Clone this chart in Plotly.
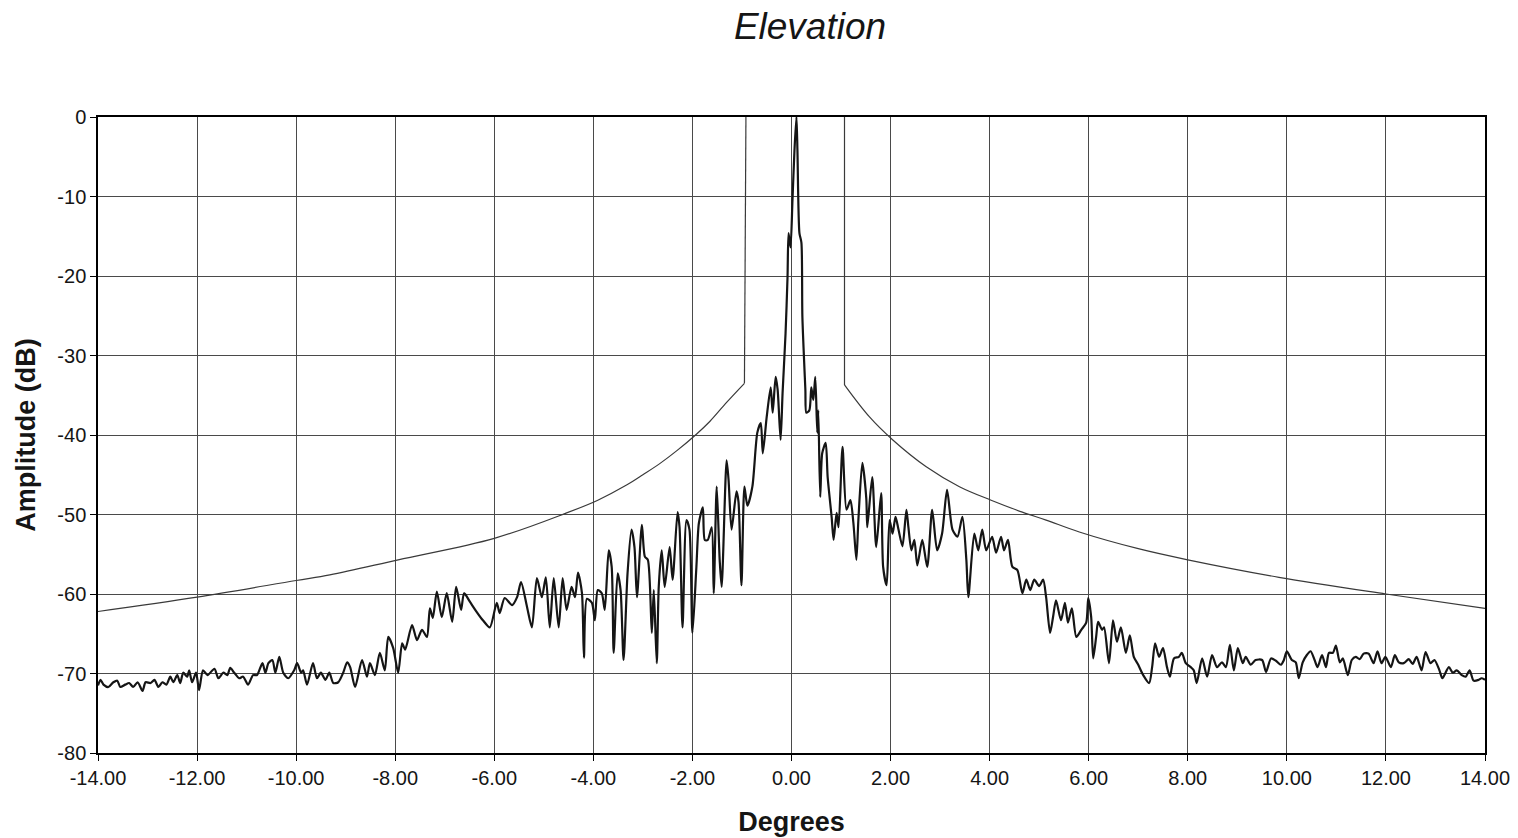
import plotly.graph_objects as go

# Measured elevation pattern: angle (degrees) and normalised amplitude (dB)
pattern_deg = [
    -14.00, -13.95, -13.89, -13.79, -13.69, -13.61, -13.55, -13.45, -13.37, -13.29,
    -13.20, -13.10, -13.04, -12.94, -12.86, -12.78, -12.70, -12.62, -12.54, -12.48,
    -12.40, -12.34, -12.28, -12.20, -12.16, -12.10, -12.02, -11.96, -11.88, -11.79,
    -11.65, -11.57, -11.47, -11.39, -11.33, -11.25, -11.15, -11.07, -10.97, -10.87,
    -10.79, -10.68, -10.62, -10.56, -10.48, -10.42, -10.34, -10.26, -10.16, -10.04,
    -9.98, -9.90, -9.86, -9.78, -9.66, -9.58, -9.50, -9.41, -9.33, -9.25,
    -9.15, -9.05, -8.97, -8.91, -8.81, -8.67, -8.57, -8.51, -8.41, -8.31,
    -8.21, -8.14, -8.04, -7.94, -7.86, -7.80, -7.66, -7.56, -7.46, -7.36,
    -7.30, -7.24, -7.16, -7.06, -6.96, -6.85, -6.77, -6.67, -6.61, -6.49,
    -6.35, -6.23, -6.09, -5.95, -5.89, -5.79, -5.64, -5.54, -5.46, -5.34,
    -5.24, -5.14, -5.04, -4.96, -4.88, -4.80, -4.70, -4.62, -4.54, -4.44,
    -4.37, -4.31, -4.23, -4.19, -4.13, -4.03, -3.97, -3.91, -3.83, -3.77,
    -3.69, -3.63, -3.59, -3.51, -3.45, -3.39, -3.31, -3.23, -3.17, -3.12,
    -3.02, -2.96, -2.90, -2.82, -2.78, -2.72, -2.68, -2.62, -2.56, -2.46,
    -2.40, -2.30, -2.26, -2.20, -2.12, -2.06, -2.00, -1.92, -1.87, -1.79,
    -1.75, -1.69, -1.61, -1.57, -1.51, -1.45, -1.41, -1.31, -1.27, -1.21,
    -1.11, -1.07, -1.01, -0.95, -0.89, -0.79, -0.69, -0.62, -0.58, -0.50,
    -0.42, -0.38, -0.32, -0.28, -0.22, -0.18, -0.12, -0.08, -0.06, -0.02,
    0.02, 0.06, 0.10, 0.12, 0.16, 0.20, 0.22, 0.28, 0.30, 0.36,
    0.40, 0.44, 0.48, 0.52, 0.54, 0.58, 0.62, 0.69, 0.73, 0.81,
    0.85, 0.91, 0.95, 1.03, 1.11, 1.19, 1.25, 1.31, 1.35, 1.43,
    1.51, 1.53, 1.63, 1.71, 1.81, 1.85, 1.92, 1.98, 2.04, 2.10,
    2.16, 2.24, 2.32, 2.36, 2.42, 2.48, 2.54, 2.64, 2.74, 2.84,
    2.94, 3.04, 3.14, 3.25, 3.35, 3.45, 3.53, 3.57, 3.69, 3.77,
    3.85, 3.93, 4.05, 4.13, 4.23, 4.29, 4.37, 4.46, 4.56, 4.66,
    4.74, 4.82, 4.90, 5.00, 5.08, 5.14, 5.22, 5.28, 5.34, 5.44,
    5.52, 5.58, 5.66, 5.75, 5.85, 5.95, 5.99, 6.05, 6.09, 6.15,
    6.19, 6.27, 6.31, 6.41, 6.49, 6.57, 6.65, 6.75, 6.83, 6.91,
    7.00, 7.10, 7.22, 7.28, 7.34, 7.42, 7.50, 7.58, 7.64, 7.72,
    7.82, 7.88, 7.96, 8.06, 8.12, 8.18, 8.29, 8.39, 8.49, 8.59,
    8.69, 8.77, 8.85, 8.93, 9.01, 9.11, 9.17, 9.27, 9.37, 9.50,
    9.58, 9.68, 9.78, 9.88, 9.94, 10.00, 10.10, 10.18, 10.24, 10.32,
    10.40, 10.48, 10.56, 10.62, 10.71, 10.79, 10.85, 10.93, 10.99, 11.07,
    11.13, 11.23, 11.31, 11.39, 11.47, 11.55, 11.65, 11.75, 11.83, 11.91,
    11.99, 12.10, 12.18, 12.26, 12.36, 12.46, 12.54, 12.62, 12.72, 12.80,
    12.90, 12.98, 13.08, 13.14, 13.27, 13.35, 13.43, 13.53, 13.61, 13.69,
    13.77, 13.87, 13.93, 14.00,
]
pattern_db = [
    -71.5, -70.8, -71.4, -71.7, -71.1, -70.9, -71.7, -71.4, -71.2, -71.7,
    -71.1, -72.2, -71.1, -71.2, -70.8, -71.7, -71.1, -71.4, -70.4, -71.1,
    -70.2, -71.2, -69.9, -70.4, -69.6, -71.1, -69.9, -72.1, -69.6, -70.2,
    -69.4, -70.6, -69.9, -70.2, -69.3, -69.9, -70.6, -70.4, -71.4, -70.2,
    -70.2, -68.7, -69.9, -68.7, -68.3, -69.9, -67.9, -69.9, -70.6, -69.6,
    -68.7, -69.9, -69.6, -71.4, -68.7, -70.6, -69.9, -70.8, -69.9, -71.2,
    -71.1, -69.9, -68.6, -69.2, -71.7, -68.3, -70.4, -68.7, -70.2, -67.4,
    -69.6, -65.4, -66.8, -69.9, -66.2, -67.0, -63.9, -65.8, -64.5, -65.4,
    -61.8, -63.0, -59.7, -62.9, -59.9, -63.5, -59.1, -62.0, -59.9, -61.0,
    -62.3, -63.3, -64.2, -61.1, -62.4, -60.5, -61.4, -60.4, -58.5, -61.6,
    -64.2, -58.0, -60.4, -57.9, -64.2, -58.0, -64.2, -58.0, -62.0, -59.1,
    -60.4, -57.3, -59.9, -68.0, -60.6, -61.1, -63.3, -59.5, -59.9, -62.0,
    -54.5, -56.6, -67.4, -57.4, -59.5, -68.3, -57.4, -51.9, -54.1, -60.4,
    -51.3, -55.3, -55.7, -64.9, -59.5, -68.7, -59.1, -54.5, -59.1, -54.1,
    -58.2, -49.7, -51.6, -64.2, -50.7, -51.9, -64.9, -56.6, -51.1, -49.1,
    -53.2, -53.2, -51.6, -59.9, -46.5, -55.7, -59.1, -43.2, -45.7, -51.9,
    -47.1, -48.4, -58.9, -46.5, -48.9, -46.5, -39.7, -38.5, -42.3, -37.7,
    -34.0, -37.2, -32.7, -34.3, -40.6, -34.7, -27.2, -20.1, -14.6, -16.4,
    -10.4, -4.2, 0.0, -4.2, -14.6, -15.8, -25.2, -34.3, -37.2, -36.9,
    -34.0, -35.6, -32.7, -39.7, -36.9, -47.8, -42.3, -41.0, -45.3, -50.3,
    -53.2, -49.8, -51.6, -41.5, -49.4, -48.2, -51.1, -55.7, -50.7, -43.5,
    -48.0, -51.6, -45.3, -54.1, -47.3, -56.6, -58.9, -50.7, -52.4, -50.3,
    -51.9, -54.0, -49.4, -51.6, -54.5, -53.2, -56.4, -53.2, -56.6, -49.4,
    -54.5, -52.4, -46.9, -51.9, -52.8, -50.3, -55.7, -60.4, -52.4, -54.5,
    -51.9, -54.5, -52.8, -54.8, -52.8, -54.5, -53.2, -56.6, -57.0, -59.9,
    -58.2, -59.5, -58.2, -59.0, -58.2, -60.4, -64.9, -62.9, -60.8, -63.3,
    -61.1, -63.6, -61.8, -65.4, -64.5, -63.6, -60.5, -62.9, -68.1, -65.4,
    -63.5, -64.5, -64.2, -68.7, -63.3, -66.0, -64.2, -67.4, -65.2, -67.9,
    -68.9, -70.2, -71.2, -69.2, -66.2, -67.9, -66.8, -69.2, -70.4, -68.1,
    -67.9, -67.4, -68.7, -69.2, -69.6, -71.2, -68.1, -70.4, -67.7, -69.2,
    -68.6, -69.2, -66.4, -69.6, -66.8, -68.7, -67.9, -68.9, -68.3, -68.3,
    -69.8, -68.1, -68.4, -68.9, -68.3, -67.2, -68.3, -68.6, -70.6, -68.6,
    -67.7, -67.2, -68.3, -69.2, -67.7, -69.2, -67.4, -67.4, -66.5, -68.6,
    -68.1, -70.2, -68.3, -67.9, -68.2, -67.5, -67.5, -68.7, -67.2, -68.7,
    -67.9, -69.2, -67.7, -68.6, -68.7, -68.2, -68.8, -67.9, -69.6, -67.3,
    -68.7, -68.3, -69.6, -70.6, -69.2, -69.9, -69.6, -70.2, -70.4, -69.6,
    -70.9, -70.8, -70.6, -70.8,
]

# Sidelobe envelope (mask) on each side of the main beam;
# the first point of each list is the top of the vertical edge at the beam.
mask_left_deg = [-0.92, -0.95, -1.31, -1.65, -1.92, -2.32, -2.66, -3.00, -3.33,
                 -3.91, -4.54, -6.00, -7.94, -9.32, -10.00, -12.00, -14.00]
mask_left_db = [0.0, -33.5, -35.9, -38.3, -39.9, -42.0, -43.6, -45.0, -46.3,
                -48.2, -49.8, -53.0, -55.7, -57.6, -58.3, -60.4, -62.2]
mask_right_deg = [1.07, 1.07, 1.57, 2.04, 2.72, 3.39, 4.03, 4.66, 5.14,
                  5.81, 7.00, 8.00, 9.84, 12.00, 14.00]
mask_right_db = [0.0, -33.7, -37.7, -40.6, -44.0, -46.5, -48.2, -49.7, -50.7,
                 -52.2, -54.3, -55.7, -57.9, -60.0, -61.8]

x_ticks = [-14, -12, -10, -8, -6, -4, -2, 0, 2, 4, 6, 8, 10, 12, 14]
x_tick_labels = ["-14.00", "-12.00", "-10.00", "-8.00", "-6.00", "-4.00", "-2.00",
                 "0.00", "2.00", "4.00", "6.00", "8.00", "10.00", "12.00", "14.00"]
y_ticks = [-80, -70, -60, -50, -40, -30, -20, -10, 0]
y_tick_labels = ["-80", "-70", "-60", "-50", "-40", "-30", "-20", "-10", "0"]

FONT = "Liberation Sans, Arial, Helvetica, sans-serif"
INK = "#151515"
GRID = "#4a4a4a"
MASK = "#3a3a3a"

fig = go.Figure()

for mx, my in ((mask_left_deg, mask_left_db), (mask_right_deg, mask_right_db)):
    # vertical edge of the mask
    fig.add_trace(go.Scatter(
        x=mx[:2], y=my[:2], mode="lines",
        line=dict(color=MASK, width=1.2),
        hoverinfo="skip", showlegend=False,
    ))
    # sloping envelope
    fig.add_trace(go.Scatter(
        x=mx[1:], y=my[1:], mode="lines",
        line=dict(color=MASK, width=1.2, shape="spline", smoothing=1.0),
        hoverinfo="skip", showlegend=False,
    ))

fig.add_trace(go.Scatter(
    x=pattern_deg, y=pattern_db, mode="lines",
    line=dict(color=INK, width=2.2, shape="spline", smoothing=0.7),
    name="Elevation", showlegend=False,
))

fig.update_layout(
    width=1518, height=838,
    margin=dict(l=98, r=33, t=117, b=85),
    paper_bgcolor="white", plot_bgcolor="white",
    font=dict(family=FONT, color=INK),
    title=dict(
        text="<i>Elevation</i>",
        x=810 / 1518, xanchor="center", xref="container",
        y=1 - 26 / 838, yanchor="middle", yref="container",
        font=dict(family=FONT, size=37, color=INK),
    ),
    showlegend=False,
)

fig.update_xaxes(
    range=[-14, 14], tickvals=x_ticks, ticktext=x_tick_labels,
    showgrid=True, gridcolor=GRID, gridwidth=1, automargin=False,
    zeroline=False, showline=True, linecolor="black", linewidth=1.5, mirror=True,
    ticks="outside", ticklen=6, tickcolor="black",
    tickfont=dict(family=FONT, size=20, color=INK),
    title=dict(text="<b>Degrees</b>", font=dict(family=FONT, size=27, color=INK), standoff=24),
)
fig.update_yaxes(
    range=[-80, 0], tickvals=y_ticks, ticktext=y_tick_labels,
    showgrid=True, gridcolor=GRID, gridwidth=1, automargin=False,
    zeroline=False, showline=True, linecolor="black", linewidth=1.5, mirror=True,
    ticks="outside", ticklen=6, tickcolor="black",
    tickfont=dict(family=FONT, size=20, color=INK),
    title=dict(text="<b>Amplitude (dB)</b>", font=dict(family=FONT, size=27, color=INK), standoff=14),
)

fig.write_html("out.html")
